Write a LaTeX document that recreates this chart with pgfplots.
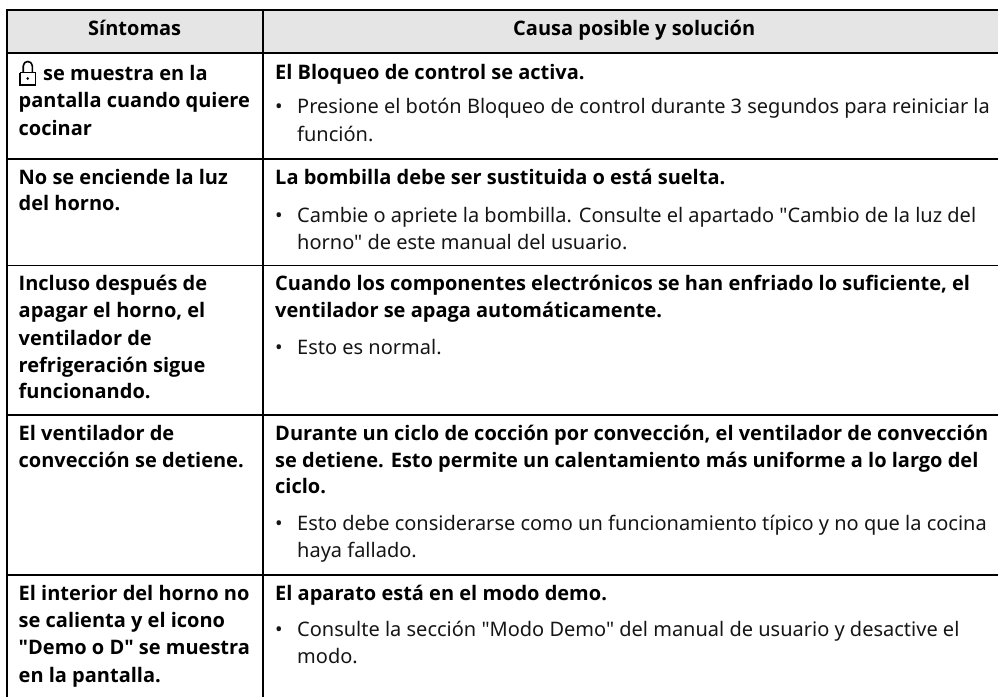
\documentclass[border=0pt]{standalone}
\usepackage{pgfplots}
\pgfplotsset{compat=1.18}
\usepackage{fontspec}
\newfontfamily\bodyf{Noto Sans}
\newfontfamily\boldf{Open Sans}[BoldFont={Open Sans Bold}]
\definecolor{txt}{HTML}{151515}
\newcommand{\B}[3]{\node[anchor=base west,inner sep=0pt,text=black] at (axis cs:#1,#2) {\fontsize{20pt}{27pt}\selectfont\boldf\bfseries #3};}
\newcommand{\T}[3]{\node[anchor=base west,inner sep=0pt,text=txt] at (axis cs:#1,#2) {\fontsize{20pt}{27pt}\selectfont\bodyf #3};}
\begin{document}
\begin{tikzpicture}
\useasboundingbox (0,0) rectangle (998pt,697pt);
\begin{axis}[at={(0,0)},anchor=south west,width=998pt,height=697pt,scale only axis,hide axis,
  xmin=0,xmax=998,ymin=0,ymax=697,y dir=reverse,clip=true]
\addplot[draw=none,fill=black!10] coordinates {(7,10) (998,10) (998,53) (7,53)} \closedcycle;
\addplot[black,line width=2pt] coordinates {(6,10) (998,10)};
\addplot[black,line width=1.8pt] coordinates {(7,53) (998,53)};
\addplot[black,line width=1.8pt] coordinates {(7,159) (998,159)};
\addplot[black,line width=1.8pt] coordinates {(7,265.5) (998,265.5)};
\addplot[black,line width=1.8pt] coordinates {(7,415) (998,415)};
\addplot[black,line width=1.8pt] coordinates {(7,575) (998,575)};
\addplot[black,line width=1.8pt] coordinates {(7.3,10) (7.3,697)};
\addplot[black,line width=1.8pt] coordinates {(263.3,10) (263.3,697)};
% lock icon
\addplot[black,line width=1.6pt] coordinates {(20,72.5) (35.5,72.5) (35.5,85) (20,85) (20,72.5)};
\addplot[black,line width=1.6pt,smooth] coordinates {(23.3,72) (23.3,66) (25,62.5) (27.8,61.5) (30.6,62.5) (32.3,66) (32.3,72)};
\addplot[black,only marks,mark=*,mark size=1.1pt] coordinates {(27.7,78.5)};
\B{88}{35}{Síntomas}
\B{513}{35}{Causa posible y solución}
\B{43}{80}{se muestra en la}
\B{18.5}{107.5}{pantalla cuando quiere}
\B{18.5}{135}{cocinar}
\B{18.5}{184}{No se enciende la luz}
\B{18.5}{210.5}{del horno.}
\B{18.5}{290}{Incluso después de}
\B{18.5}{317}{apagar el horno, el}
\B{18.5}{345}{ventilador de}
\B{18.5}{372}{refrigeración sigue}
\B{18.5}{398}{funcionando.}
\B{18.5}{440}{El ventilador de}
\B{18.5}{467}{convección se detiene.}
\B{18.5}{600}{El interior del horno no}
\B{18.5}{627}{se calienta y el icono}
\B{18.5}{654.5}{"Demo o D" se muestra}
\B{18.5}{682}{en la pantalla.}
\B{275}{79}{El Bloqueo de control se activa.}
\B{275}{184}{La bombilla debe ser sustituida o está suelta.}
\B{275}{290}{Cuando los componentes electrónicos se han enfriado lo suficiente, el}
\B{275}{317}{ventilador se apaga automáticamente.}
\B{275}{440}{Durante un ciclo de cocción por convección, el ventilador de convección}
\B{275}{467}{se detiene. Esto permite un calentamiento más uniforme a lo largo del}
\B{275}{493}{ciclo.}
\B{275}{600}{El aparato está en el modo demo.}
\T{275}{113}{•}\T{297}{113}{Presione el botón Bloqueo de control durante 3 segundos para reiniciar la}
\T{297}{141}{función.}
\T{275}{222}{•}\T{297}{222}{Cambie o apriete la bombilla. Consulte el apartado "Cambio de la luz del}
\T{297}{249}{horno" de este manual del usuario.}
\T{275}{354}{•}\T{297}{354}{Esto es normal.}
\T{275}{530}{•}\T{297}{530}{Esto debe considerarse como un funcionamiento típico y no que la cocina}
\T{297}{557}{haya fallado.}
\T{275}{636}{•}\T{297}{636}{Consulte la sección "Modo Demo" del manual de usuario y desactive el}
\T{297}{663}{modo.}
\end{axis}
\end{tikzpicture}
\end{document}
